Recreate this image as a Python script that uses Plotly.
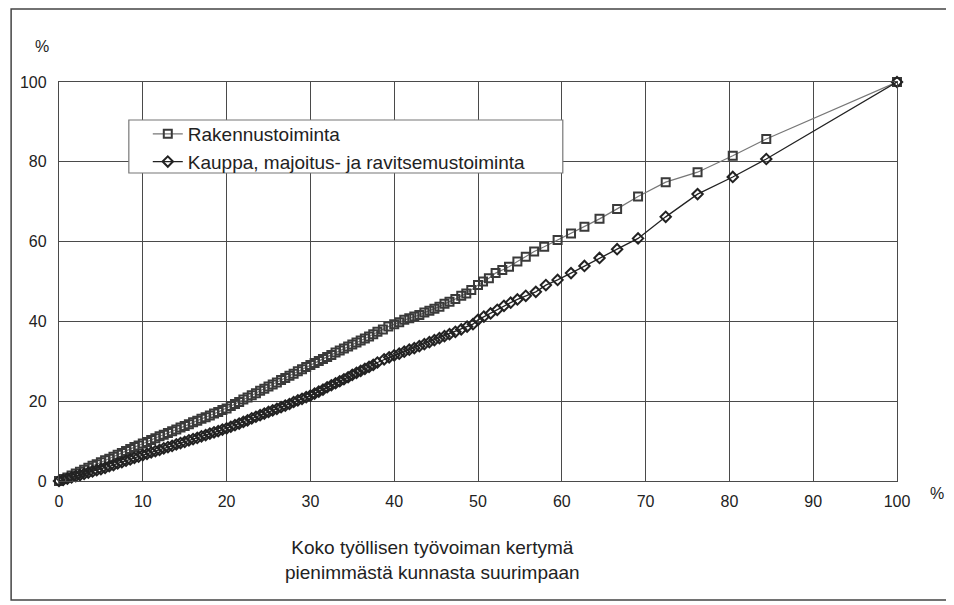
import plotly.graph_objects as go

# cumulative share of total employed workforce (x) vs. cumulative share of industry workforce (y), %
rak_x = [0, 0.5, 1, 1.5, 2, 2.5, 3, 3.5, 4, 4.5, 5, 5.5, 6, 6.5, 7, 7.5, 8, 8.5, 9, 9.5,
         10, 10.5, 11, 11.5, 12, 12.5, 13, 13.5, 14, 14.5, 15, 15.5, 16, 16.5, 17, 17.5, 18, 18.5, 19, 19.5,
         20, 20.5, 21, 21.5, 22, 22.5, 23, 23.5, 24, 24.5, 25, 25.5, 26, 26.5, 27, 27.5, 28, 28.5, 29, 29.5,
         30, 30.5, 31, 31.5, 32, 32.5, 33, 33.5, 34, 34.5, 35, 35.5, 36, 36.5, 37, 37.5, 38,
         38.65, 39.3, 40.0, 40.6, 41.2, 41.8, 42.4, 43.0, 43.6, 44.2, 44.8, 45.4, 46.0, 46.6, 47.3, 48.0,
         48.6, 49.2, 50.0, 50.6, 51.3, 52.1, 52.9, 53.7, 54.7, 55.7, 56.7, 57.9, 59.5, 61.1, 62.7, 64.5,
         66.6, 69.1, 72.4, 76.2, 80.4, 84.4, 100]
rak_y = [0, 0.5, 0.9, 1.4, 1.9, 2.3, 2.8, 3.3, 3.8, 4.2, 4.7, 5.2, 5.6, 6.1, 6.6, 7.0, 7.5, 8.0, 8.5, 8.9,
         9.4, 9.8, 10.3, 10.7, 11.2, 11.6, 12.0, 12.5, 12.9, 13.4, 13.8, 14.2, 14.7, 15.1, 15.6, 16.0, 16.4, 16.9, 17.3, 17.8,
         18.2, 18.8, 19.3, 19.8, 20.4, 20.9, 21.5, 22.0, 22.6, 23.1, 23.7, 24.2, 24.7, 25.3, 25.8, 26.4, 26.9, 27.5, 28.0, 28.6,
         29.1, 29.6, 30.1, 30.6, 31.1, 31.6, 32.2, 32.7, 33.2, 33.7, 34.2, 34.7, 35.2, 35.7, 36.2, 36.8, 37.4,
         38.0, 38.7, 39.3, 39.8, 40.4, 40.8, 41.2, 41.6, 42.2, 42.7, 43.2, 43.7, 44.4, 44.9, 45.6, 46.4,
         47.0, 47.9, 49.1, 50.0, 50.8, 52.1, 52.9, 53.7, 55.0, 56.2, 57.5, 58.7, 60.4, 62.0, 63.7, 65.7,
         68.2, 71.3, 74.9, 77.4, 81.5, 85.7, 100]

kau_x = [0, 0.5, 1, 1.5, 2, 2.5, 3, 3.5, 4, 4.5, 5, 5.5, 6, 6.5, 7, 7.5, 8, 8.5, 9, 9.5,
         10, 10.5, 11, 11.5, 12, 12.5, 13, 13.5, 14, 14.5, 15, 15.5, 16, 16.5, 17, 17.5, 18, 18.5, 19, 19.5,
         20, 20.5, 21, 21.5, 22, 22.5, 23, 23.5, 24, 24.5, 25, 25.5, 26, 26.5, 27, 27.5, 28, 28.5, 29, 29.5,
         30, 30.5, 31, 31.5, 32, 32.5, 33, 33.5, 34, 34.5, 35, 35.5, 36, 36.5, 37, 37.5, 38,
         38.8, 39.4, 40.0, 40.6, 41.2, 41.8, 42.4, 43.0, 43.6, 44.2, 44.8, 45.4, 46.0, 46.6, 47.3, 48.0,
         48.7, 49.4, 50.0, 50.7, 51.5, 52.3, 53.1, 53.9, 54.7, 55.7, 56.9, 58.1, 59.5, 61.1, 62.7, 64.5,
         66.6, 69.1, 72.4, 76.2, 80.4, 84.4, 100]
kau_y = [0, 0.3, 0.6, 0.9, 1.2, 1.5, 1.8, 2.1, 2.4, 2.7, 3.0, 3.3, 3.7, 4.0, 4.4, 4.7, 5.1, 5.4, 5.8, 6.1,
         6.5, 6.8, 7.2, 7.5, 7.8, 8.2, 8.5, 8.8, 9.2, 9.5, 9.8, 10.2, 10.5, 10.8, 11.2, 11.5, 11.9, 12.2, 12.5, 12.9,
         13.2, 13.6, 14.0, 14.4, 14.8, 15.2, 15.7, 16.1, 16.5, 16.9, 17.3, 17.7, 18.1, 18.5, 18.9, 19.3, 19.8, 20.2, 20.6, 21.0,
         21.4, 21.9, 22.4, 22.9, 23.5, 24.0, 24.5, 25.0, 25.5, 26.0, 26.6, 27.1, 27.6, 28.1, 28.6, 29.1, 29.7,
         30.5, 31.0, 31.5, 31.9, 32.4, 32.9, 33.3, 33.8, 34.3, 34.8, 35.3, 35.8, 36.3, 36.8, 37.4, 38.0,
         38.7, 39.3, 40.4, 41.2, 42.0, 42.9, 43.9, 44.7, 45.5, 46.4, 47.4, 49.1, 50.4, 52.1, 53.9, 55.9,
         58.1, 60.8, 66.2, 71.9, 76.2, 80.7, 100]

ticks_x = [0, 10, 20, 30, 40, 50, 60, 70, 80, 90, 100]
ticks_y = [0, 20, 40, 60, 80, 100]

FONT = "Liberation Sans, Arial, sans-serif"
GRID = "#4a4a4a"


def px_x(page_x):
    # page pixel -> paper coordinate (plot area spans 57..897 horizontally)
    return (page_x - 57) / 840


def px_y(page_y):
    # plot area spans 82..481 vertically
    return (481 - page_y) / 399


fig = go.Figure()
fig.add_trace(go.Scatter(
    x=rak_x, y=rak_y, mode="lines+markers", name="Rakennustoiminta",
    line=dict(color="#777777", width=1.2),
    marker=dict(symbol="square-open", size=8, color="#3a3a3a", line=dict(width=2)),
    cliponaxis=False,
))
fig.add_trace(go.Scatter(
    x=kau_x, y=kau_y, mode="lines+markers", name="Kauppa, majoitus- ja ravitsemustoiminta",
    line=dict(color="#222222", width=1.3),
    marker=dict(symbol="diamond-open", size=8, color="#222222", line=dict(width=2)),
    cliponaxis=False,
))

axis_common = dict(
    range=[0, 100], showgrid=True, gridcolor=GRID, gridwidth=1.3,
    showline=True, linecolor=GRID, linewidth=1.3, mirror=True,
    zeroline=False, ticks="", fixedrange=True,
    tickfont=dict(family=FONT, size=16, color="#222"),
)
fig.update_xaxes(tickvals=ticks_x, ticklabelstandoff=6, **axis_common)
fig.update_yaxes(tickvals=ticks_y, ticklabelstandoff=8, **axis_common)

# legend box (drawn as a shape so its width matches the original)
fig.add_shape(type="rect", xref="paper", yref="paper",
              x0=px_x(127), x1=px_x(562), y0=px_y(173), y1=px_y(120),
              fillcolor="white", line=dict(color="#777", width=1.2), layer="above")
# outer frame
fig.add_shape(type="rect", xref="paper", yref="paper",
              x0=px_x(9), x1=px_x(950), y0=px_y(600), y1=px_y(9),
              line=dict(color="#444", width=1.5))

fig.add_annotation(text="%", xref="paper", yref="paper", x=px_x(40), y=px_y(46),
                   xanchor="center", yanchor="middle", showarrow=False,
                   font=dict(family=FONT, size=16, color="#222"))
fig.add_annotation(text="%", xref="paper", yref="paper", x=px_x(937), y=px_y(493),
                   xanchor="center", yanchor="middle", showarrow=False,
                   font=dict(family=FONT, size=16, color="#222"))
fig.add_annotation(text="Koko työllisen työvoiman kertymä<br>pienimmästä kunnasta suurimpaan",
                   xref="paper", yref="paper", x=px_x(431), y=px_y(560),
                   xanchor="center", yanchor="middle", showarrow=False, align="center",
                   font=dict(family=FONT, size=19, color="#222"))

# the page body adds an 8px offset, so the figure is shifted by that amount
fig.update_layout(
    width=946, height=597,
    margin=dict(l=49, r=57, t=74, b=124),
    paper_bgcolor="white", plot_bgcolor="white",
    showlegend=True,
    legend=dict(
        x=px_x(146), y=px_y(115), xanchor="left", yanchor="top",
        bgcolor="rgba(0,0,0,0)", borderwidth=0,
        font=dict(family=FONT, size=19, color="#222"),
        itemwidth=30, tracegroupgap=0,
    ),
)

fig.write_html("out.html")
